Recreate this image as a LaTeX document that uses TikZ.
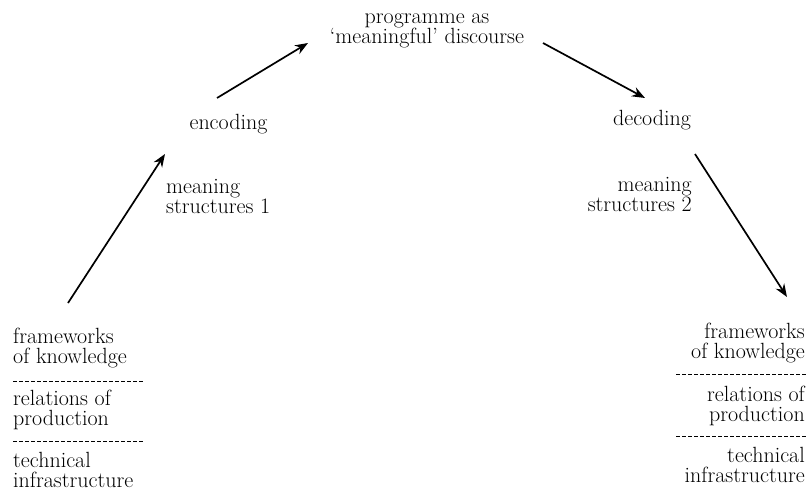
\documentclass[tikz,border=0pt]{standalone}
\usetikzlibrary{arrows.meta}
\begin{document}
\begin{tikzpicture}[x=1pt,y=-1pt,
  lbl/.style={inner sep=0pt,font=\fontsize{22}{20}\selectfont},
  flow/.style={line width=1.7pt,-{Stealth[length=13pt,width=10pt]}},
  sep/.style={line width=0.7pt,dash pattern=on 4pt off 2pt}]
\useasboundingbox (0,0) rectangle (806,493);
% centre (base anchor = baseline of last line)
\node[lbl,align=center,anchor=base] (prog) at (427,43) {programme as\\`meaningful' discourse};
\node[lbl,anchor=base] (enc) at (228.5,129) {encoding};
\node[lbl,anchor=base] (dec) at (652,125) {decoding};
\node[lbl,align=left,anchor=base west] (ms1) at (166,213) {meaning\\structures 1};
\node[lbl,align=right,anchor=base east] (ms2) at (692,211) {meaning\\structures 2};
% left column
\node[lbl,align=left,anchor=base west] (lfk) at (13,363) {frameworks\\of knowledge};
\node[lbl,align=left,anchor=base west] (lrp) at (13,425) {relations of\\production};
\node[lbl,align=left,anchor=base west] (lti) at (13,487) {technical\\infrastructure};
% right column
\node[lbl,align=right,anchor=base east] (rfk) at (805,358) {frameworks\\of knowledge};
\node[lbl,align=right,anchor=base east] (rrp) at (805,421) {relations of\\production};
\node[lbl,align=right,anchor=base east] (rti) at (805,482) {technical\\infrastructure};
% separators
\coordinate (ld1a) at (13,381); \coordinate (ld1b) at (143,381);
\coordinate (ld2a) at (13,441); \coordinate (ld2b) at (143,441);
\coordinate (rd1a) at (676,374); \coordinate (rd1b) at (806,374);
\coordinate (rd2a) at (676,436); \coordinate (rd2b) at (806,436);
\draw[sep] (ld1a) -- (ld1b);
\draw[sep] (ld2a) -- (ld2b);
\draw[sep] (rd1a) -- (rd1b);
\draw[sep] (rd2a) -- (rd2b);
% arrows
\coordinate (a2s) at (68,303); \coordinate (a2e) at (165,154);
\coordinate (a1s) at (217,98); \coordinate (a1e) at (308,43);
\coordinate (a3s) at (543,43); \coordinate (a3e) at (645,98);
\coordinate (a4s) at (695,154); \coordinate (a4e) at (787,297);
\draw[flow] (a2s) -- (a2e);
\draw[flow] (a1s) -- (a1e);
\draw[flow] (a3s) -- (a3e);
\draw[flow] (a4s) -- (a4e);
\end{tikzpicture}
\end{document}
